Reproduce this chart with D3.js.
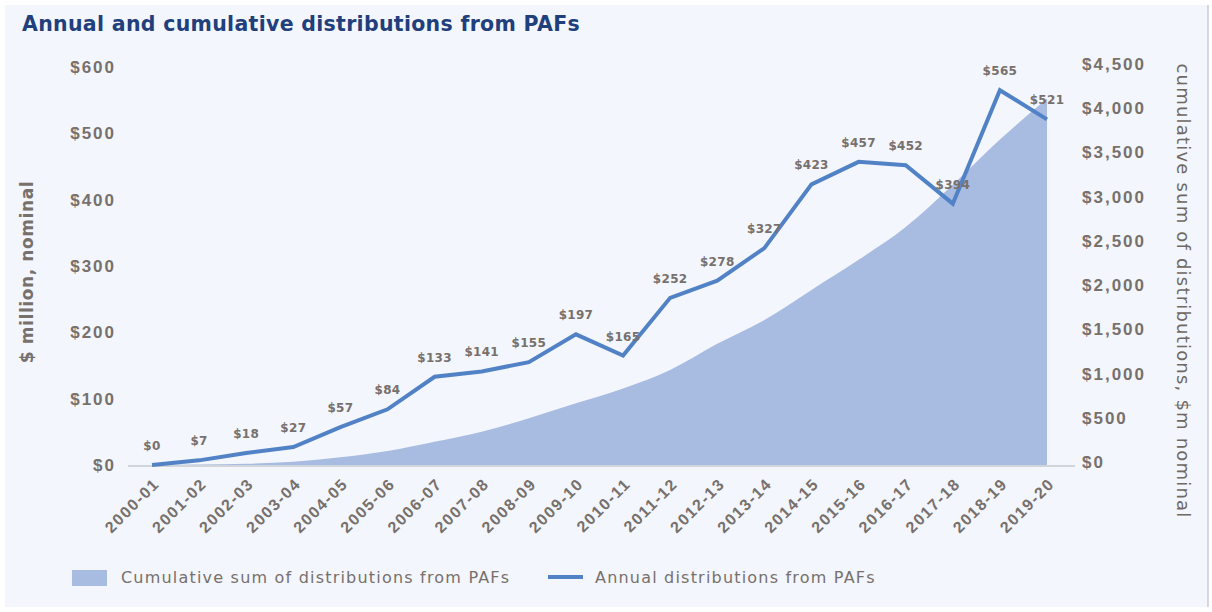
<!DOCTYPE html>
<html>
<head>
<meta charset="utf-8">
<script src="https://cdn.jsdelivr.net/npm/d3@7"></script>
<style>
  html, body { margin: 0; padding: 0; background: #ffffff; }
  svg { display: block; font-family: "DejaVu Sans", sans-serif; }
  .tick-label { fill: #77706c; font-weight: bold; }
</style>
</head>
<body>
<div id="chart"></div>
<script>
// valores
const years = ['2000-01','2001-02','2002-03','2003-04','2004-05','2005-06','2006-07','2007-08','2008-09','2009-10',
  '2010-11','2011-12','2012-13','2013-14','2014-15','2015-16','2016-17','2017-18','2018-19','2019-20'];
const annual = [0, 7, 18, 27, 57, 84, 133, 141, 155, 197, 165, 252, 278, 327, 423, 457, 452, 394, 565, 521];
const cumulative = [0, 5, 15, 37, 87, 158, 263, 376, 528, 697, 865, 1075, 1370, 1640, 1980, 2320, 2690, 3170, 3680, 4140];
const leftTicks = [0, 100, 200, 300, 400, 500, 600];
const rightTicks = [0, 500, 1000, 1500, 2000, 2500, 3000, 3500, 4000, 4500];

const width = 1212, height = 612;
const svg = d3.select('#chart').append('svg').attr('width', width).attr('height', height);

// painel de fundo
svg.append('rect').attr('x', 5).attr('y', 5).attr('width', 1203).attr('height', 602).attr('fill', '#f3f6fc');
svg.append('line').attr('x1', 1208).attr('x2', 1208).attr('y1', 5).attr('y2', 607).attr('stroke', '#c9ccd2').attr('stroke-width', 1.5);

svg.append('text').attr('x', 22).attr('y', 31)
  .attr('font-size', 20.5).attr('font-weight', 'bold').attr('fill', '#1f3f7d')
  .attr('letter-spacing', 0.3)
  .text('Annual and cumulative distributions from PAFs');

const x = d3.scalePoint().domain(years).range([152, 1047]);
const yL = d3.scaleLinear().domain([0, 600]).range([465, 67]);
const yR = d3.scaleLinear().domain([0, 4500]).range([465, 67]);

// área acumulada
const area = d3.area()
  .x((d, i) => x(years[i]))
  .y0(yR(0))
  .y1(d => yR(d))
  .curve(d3.curveMonotoneX);
svg.append('path').datum(cumulative).attr('d', area).attr('fill', '#a8bbe1');

// linha de base
svg.append('line').attr('x1', 128).attr('x2', 1075).attr('y1', 466).attr('y2', 466)
  .attr('stroke', '#c6c8cc').attr('stroke-width', 1.5);

// linha anual
const line = d3.line().x((d, i) => x(years[i])).y(d => yL(d));
svg.append('path').datum(annual).attr('d', line)
  .attr('fill', 'none').attr('stroke', '#5282c6').attr('stroke-width', 4).attr('stroke-linejoin', 'miter');

// rótulos de valores
svg.append('g').selectAll('text').data(annual).enter().append('text')
  .attr('class', 'tick-label')
  .attr('x', (d, i) => x(years[i]))
  .attr('y', d => yL(d) - 15)
  .attr('text-anchor', 'middle')
  .attr('font-size', 12).attr('letter-spacing', 0.3)
  .text(d => '$' + d);

// eixo esquerdo
const gL = svg.append('g').attr('transform', 'translate(118,0)')
  .call(d3.axisLeft(yL).tickValues(leftTicks).tickSize(0).tickPadding(2).tickFormat(d => '$' + d));
gL.select('.domain').remove();
gL.selectAll('text').attr('class', 'tick-label').attr('font-size', 17).attr('letter-spacing', 2).attr('font-family', null);

// eixo direito
const gR = svg.append('g').attr('transform', 'translate(1080,-3)')
  .call(d3.axisRight(yR).tickValues(rightTicks).tickSize(0).tickPadding(2).tickFormat(d => '$' + d3.format(',')(d)));
gR.select('.domain').remove();
gR.selectAll('text').attr('class', 'tick-label').attr('font-size', 17).attr('letter-spacing', 2).attr('font-family', null);

// eixo x
const gX = svg.append('g').attr('transform', 'translate(0,466)')
  .call(d3.axisBottom(x).tickSize(0).tickPadding(0));
gX.select('.domain').remove();
gX.selectAll('text')
  .attr('class', 'tick-label').attr('font-size', 16).attr('letter-spacing', 1.5).attr('font-family', null)
  .attr('text-anchor', 'end')
  .attr('transform', 'translate(4,15) rotate(-45)')
  .attr('dy', '0.35em');

// títulos dos eixos
svg.append('text').attr('class', 'tick-label')
  .attr('transform', 'translate(33,272) rotate(-90)')
  .attr('text-anchor', 'middle').attr('font-size', 17).attr('letter-spacing', 0.6)
  .text('$ million, nominal');
svg.append('text')
  .attr('transform', 'translate(1177,291) rotate(90)')
  .attr('text-anchor', 'middle').attr('font-size', 18).attr('letter-spacing', 1.2)
  .attr('fill', '#6f6864')
  .text('cumulative sum of distributions, $m nominal');

// legenda
svg.append('rect').attr('x', 72).attr('y', 570).attr('width', 35).attr('height', 16).attr('fill', '#a8bbe1');
svg.append('text').attr('x', 121).attr('y', 583).attr('font-size', 16).attr('letter-spacing', 1.2).attr('fill', '#77706c')
  .text('Cumulative sum of distributions from PAFs');
svg.append('line').attr('x1', 548).attr('x2', 583).attr('y1', 577).attr('y2', 577)
  .attr('stroke', '#5282c6').attr('stroke-width', 4);
svg.append('text').attr('x', 595).attr('y', 583).attr('font-size', 16).attr('letter-spacing', 1.2).attr('fill', '#77706c')
  .text('Annual distributions from PAFs');
</script>
</body>
</html>
